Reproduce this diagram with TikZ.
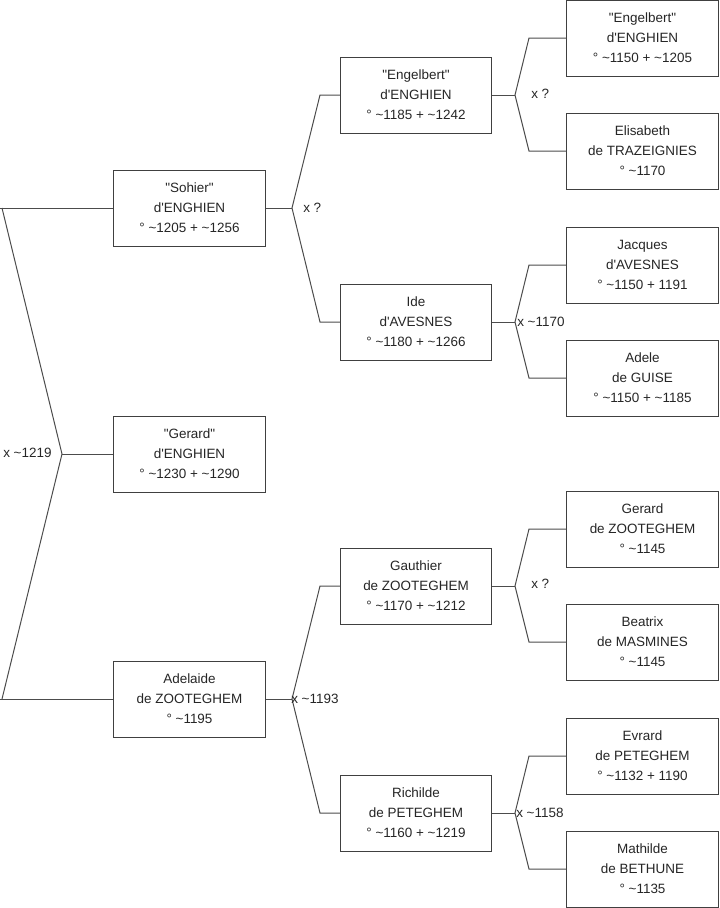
\documentclass[tikz,border=0pt]{standalone}
\usepackage{fontspec}
\setmainfont{Liberation Sans}[Ligatures=TeXOff]
\begin{document}
\begin{tikzpicture}[x=0.75pt,y=-0.75pt,
  person/.style={draw=black!75, line width=0.75pt, fill=white, minimum width=113.6pt, minimum height=57pt, inner sep=0pt, align=center, font=\fontsize{10.1pt}{15pt}\selectfont, text=black!85},
  link/.style={draw=black!70, line width=0.75pt},
  marr/.style={anchor=west, inner sep=0pt, font=\fontsize{10.1pt}{15pt}\selectfont, text=black!85}]
\useasboundingbox (0,0) rectangle (719,908);
% generation 1
\node[person] (s) at (189.5,208) {"Sohier"\\d'ENGHIEN\\° \textasciitilde1205 + \textasciitilde1256};
\node[person] (g) at (189.5,454) {"Gerard"\\d'ENGHIEN\\° \textasciitilde1230 + \textasciitilde1290};
\node[person] (a) at (189.5,699) {Adelaide\\de ZOOTEGHEM\\° \textasciitilde1195};
% generation 2
\node[person] (e) at (416,95) {"Engelbert"\\d'ENGHIEN\\° \textasciitilde1185 + \textasciitilde1242};
\node[person] (i) at (416,322) {Ide\\d'AVESNES\\° \textasciitilde1180 + \textasciitilde1266};
\node[person] (ga) at (416,586) {Gauthier\\de ZOOTEGHEM\\° \textasciitilde1170 + \textasciitilde1212};
\node[person] (r) at (416,813) {Richilde\\de PETEGHEM\\° \textasciitilde1160 + \textasciitilde1219};
% generation 3
\node[person] (p1) at (642.5,38) {"Engelbert"\\d'ENGHIEN\\° \textasciitilde1150 + \textasciitilde1205};
\node[person] (p2) at (642.5,151) {Elisabeth\\de TRAZEIGNIES\\° \textasciitilde1170};
\node[person] (p3) at (642.5,265) {Jacques\\d'AVESNES\\° \textasciitilde1150 + 1191};
\node[person] (p4) at (642.5,378) {Adele\\de GUISE\\° \textasciitilde1150 + \textasciitilde1185};
\node[person] (p5) at (642.5,529) {Gerard\\de ZOOTEGHEM\\° \textasciitilde1145};
\node[person] (p6) at (642.5,642) {Beatrix\\de MASMINES\\° \textasciitilde1145};
\node[person] (p7) at (642.5,756) {Evrard\\de PETEGHEM\\° \textasciitilde1132 + 1190};
\node[person] (p8) at (642.5,869) {Mathilde\\de BETHUNE\\° \textasciitilde1135};
% left fork
\coordinate (l0) at (0,208);
\coordinate (l1) at (0,699);
\coordinate (f0t) at (2,208);
\coordinate (f0) at (62,454);
\coordinate (f0b) at (2,699);
\draw[link] (l0) -- (s.west);
\draw[link] (l1) -- (a.west);
\draw[link] (f0t) -- (f0) -- (f0b);
\draw[link] (f0) -- (g.west);
% fork of Sohier
\coordinate (fs) at (292,208);
\coordinate (fst) at (320,95);
\coordinate (fsb) at (320,322);
\draw[link] (s.east) -- (fs);
\draw[link] (e.west) -- (fst) -- (fs) -- (fsb) -- (i.west);
% fork of Adelaide
\coordinate (fa) at (292,699);
\coordinate (fat) at (320,586);
\coordinate (fab) at (320,813);
\draw[link] (a.east) -- (fa);
\draw[link] (ga.west) -- (fat) -- (fa) -- (fab) -- (r.west);
% fork of Engelbert
\coordinate (fe) at (515,95);
\coordinate (fet) at (529,38);
\coordinate (feb) at (529,151);
\draw[link] (e.east) -- (fe);
\draw[link] (p1.west) -- (fet) -- (fe) -- (feb) -- (p2.west);
% fork of Ide
\coordinate (fi) at (515,322);
\coordinate (fit) at (529,265);
\coordinate (fib) at (529,378);
\draw[link] (i.east) -- (fi);
\draw[link] (p3.west) -- (fit) -- (fi) -- (fib) -- (p4.west);
% fork of Gauthier
\coordinate (fg) at (515,586);
\coordinate (fgt) at (529,529);
\coordinate (fgb) at (529,642);
\draw[link] (ga.east) -- (fg);
\draw[link] (p5.west) -- (fgt) -- (fg) -- (fgb) -- (p6.west);
% fork of Richilde
\coordinate (fr) at (515,813);
\coordinate (frt) at (529,756);
\coordinate (frb) at (529,869);
\draw[link] (r.east) -- (fr);
\draw[link] (p7.west) -- (frt) -- (fr) -- (frb) -- (p8.west);
% marriage labels
\node[marr] (m0) at (3,453) {x \textasciitilde1219};
\node[marr] (m1) at (303,208) {x ?};
\node[marr] (m2) at (291,699) {x \textasciitilde1193};
\node[marr] (m3) at (531,94) {x ?};
\node[marr] (m4) at (517,322) {x \textasciitilde1170};
\node[marr] (m5) at (531,584) {x ?};
\node[marr] (m6) at (516,813) {x \textasciitilde1158};
\end{tikzpicture}
\end{document}
